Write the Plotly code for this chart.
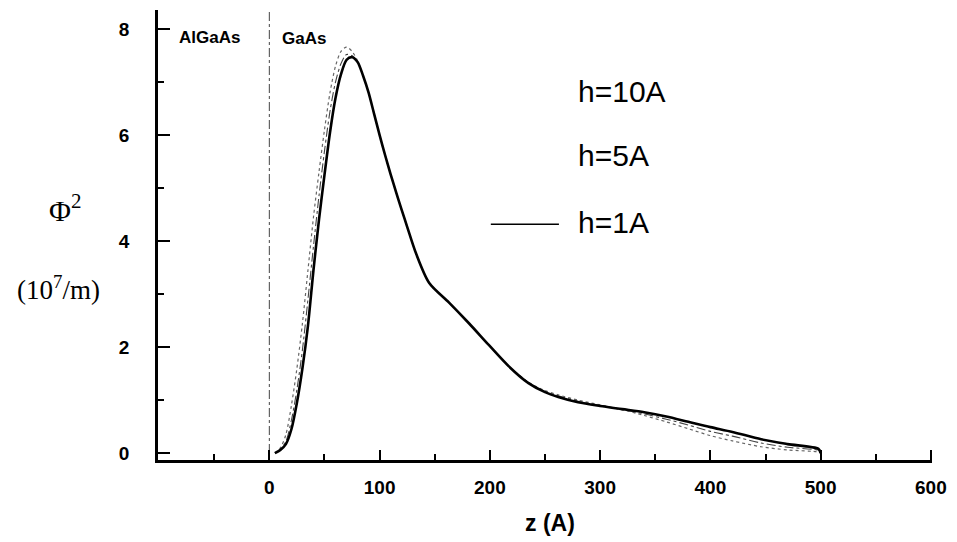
import plotly.graph_objects as go

# Probability density |Phi|^2 across the AlGaAs/GaAs interface for three step sizes h
z_h1 = [5, 10, 15, 20, 25, 30, 35, 40, 45, 50, 55, 60, 65, 70, 75, 80, 85, 90, 95, 100,
        105, 110, 115, 120, 125, 133, 145, 163, 181, 199, 217, 235, 250, 262, 280, 300,
        320, 340, 360, 380, 400, 420, 446, 470, 498, 500]
phi2_h1 = [0.0, 0.06, 0.17, 0.45, 0.95, 1.6, 2.4, 3.45, 4.4, 5.25, 6.05, 6.7, 7.15, 7.42,
           7.47, 7.38, 7.12, 6.8, 6.4, 6.0, 5.62, 5.26, 4.92, 4.59, 4.27, 3.77, 3.21, 2.84,
           2.45, 2.04, 1.64, 1.32, 1.15, 1.06, 0.96, 0.89, 0.83, 0.77, 0.69, 0.59, 0.49,
           0.40, 0.26, 0.17, 0.08, 0.0]

z_h5 = [5, 10, 15, 20, 25, 30, 35, 40, 45, 50, 55, 60, 65, 70, 75, 80, 85, 90, 95, 100,
        105, 110, 115, 120, 125, 133, 145, 163, 181, 199, 217, 235, 250, 262, 280, 300,
        320, 340, 360, 380, 400, 420, 446, 470, 498, 500]
phi2_h5 = [0.0, 0.08, 0.22, 0.62, 1.2, 1.95, 2.9, 3.9, 4.85, 5.7, 6.45, 7.0, 7.35, 7.52,
           7.5, 7.38, 7.12, 6.8, 6.4, 6.0, 5.62, 5.26, 4.92, 4.59, 4.27, 3.77, 3.21, 2.84,
           2.45, 2.04, 1.64, 1.33, 1.16, 1.08, 0.98, 0.9, 0.82, 0.74, 0.64, 0.53, 0.41,
           0.32, 0.19, 0.11, 0.05, 0.0]

z_h10 = [5, 10, 15, 20, 25, 30, 35, 40, 45, 50, 55, 60, 65, 70, 75, 80, 85, 90, 95, 100,
         105, 110, 115, 120, 125, 133, 145, 163, 181, 199, 217, 235, 250, 262, 280, 300,
         320, 340, 360, 380, 400, 420, 446, 470, 498, 500]
phi2_h10 = [0.0, 0.1, 0.35, 0.9, 1.6, 2.45, 3.45, 4.45, 5.3, 6.1, 6.8, 7.3, 7.58, 7.66,
            7.58, 7.4, 7.12, 6.8, 6.4, 6.0, 5.62, 5.26, 4.92, 4.59, 4.27, 3.77, 3.21, 2.84,
            2.45, 2.04, 1.64, 1.34, 1.18, 1.1, 1.0, 0.91, 0.82, 0.71, 0.59, 0.46, 0.33,
            0.23, 0.12, 0.06, 0.02, 0.0]

x_ticks = [0, 100, 200, 300, 400, 500, 600]
x_minor = [-50, 50, 150, 250, 350, 450, 550]
y_ticks = [0, 2, 4, 6, 8]
y_minor = [1, 3, 5, 7]
series_names = ["h=10A", "h=5A", "h=1A"]
region_names = ["AlGaAs", "GaAs"]

SANS = "Liberation Sans, Arial, sans-serif"
SERIF = "Liberation Serif, Times New Roman, serif"

fig = go.Figure()

# interface at z = 0
fig.add_trace(go.Scatter(x=[0, 0], y=[0, 8.36], mode="lines",
                         line=dict(color="#555", width=1.1, dash="dashdot"),
                         showlegend=False, hoverinfo="skip"))

fig.add_trace(go.Scatter(x=z_h10, y=phi2_h10, mode="lines", name=series_names[0],
                         line=dict(color="#666", width=1.2, dash="dot",
                                   shape="spline", smoothing=0.8),
                         showlegend=False))
fig.add_trace(go.Scatter(x=z_h5, y=phi2_h5, mode="lines", name=series_names[1],
                         line=dict(color="#444", width=1.1, dash="dashdot",
                                   shape="spline", smoothing=0.8),
                         showlegend=False))
fig.add_trace(go.Scatter(x=z_h1, y=phi2_h1, mode="lines", name=series_names[2],
                         line=dict(color="black", width=2.6, shape="spline", smoothing=0.8),
                         showlegend=False))

axis_common = dict(showline=True, linecolor="black", linewidth=2.5, showgrid=False,
                   zeroline=False, ticks="inside", tickcolor="black", tickwidth=2,
                   tickfont=dict(family=SANS, size=19, color="black", weight="bold"))

fig.update_xaxes(range=[-101, 601], tickmode="array", tickvals=x_ticks, ticklen=10,
                 ticklabelstandoff=8,
                 minor=dict(tickmode="array", tickvals=x_minor, ticks="inside",
                            ticklen=6, tickcolor="black", tickwidth=1.5),
                 **axis_common)
fig.update_yaxes(range=[-0.13, 8.36], tickmode="array", tickvals=y_ticks, ticklen=12,
                 ticklabelstandoff=22,
                 minor=dict(tickmode="array", tickvals=y_minor, ticks="inside",
                            ticklen=6, tickcolor="black", tickwidth=1.5),
                 **axis_common)

annotations = [
    dict(text=region_names[0], x=0.067, y=0.938, xanchor="center", yanchor="middle",
         font=dict(family=SANS, size=17, color="black", weight="bold")),
    dict(text=region_names[1], x=0.188, y=0.936, xanchor="center", yanchor="middle",
         font=dict(family=SANS, size=17, color="black", weight="bold")),
    dict(text=series_names[0], x=0.540, y=0.820, xanchor="left", yanchor="middle",
         font=dict(family=SANS, size=30, color="black")),
    dict(text=series_names[1], x=0.540, y=0.676, xanchor="left", yanchor="middle",
         font=dict(family=SANS, size=30, color="black")),
    dict(text=series_names[2], x=0.540, y=0.527, xanchor="left", yanchor="middle",
         font=dict(family=SANS, size=30, color="black")),
    dict(text="z (A)", x=0.506, y=-0.14, xanchor="center", yanchor="middle",
         font=dict(family=SANS, size=23, color="black", weight="bold")),
    dict(text="\u03a6<sup>2</sup>", x=-0.120, y=0.56, xanchor="center", yanchor="middle",
         font=dict(family=SERIF, size=30, color="black")),
    dict(text="(10<sup>7</sup>/m)", x=-0.129, y=0.382, xanchor="center", yanchor="middle",
         font=dict(family=SERIF, size=27, color="black")),
]
for a in annotations:
    a.update(xref="paper", yref="paper", showarrow=False)

fig.update_layout(
    width=957, height=542,
    margin=dict(l=158, r=23, t=10, b=82),
    paper_bgcolor="white", plot_bgcolor="white",
    annotations=annotations,
    shapes=[dict(type="line", xref="paper", yref="paper", x0=0.430, x1=0.518,
                 y0=0.524, y1=0.524, line=dict(color="black", width=1.6))],
)

fig.write_html("out.html")
